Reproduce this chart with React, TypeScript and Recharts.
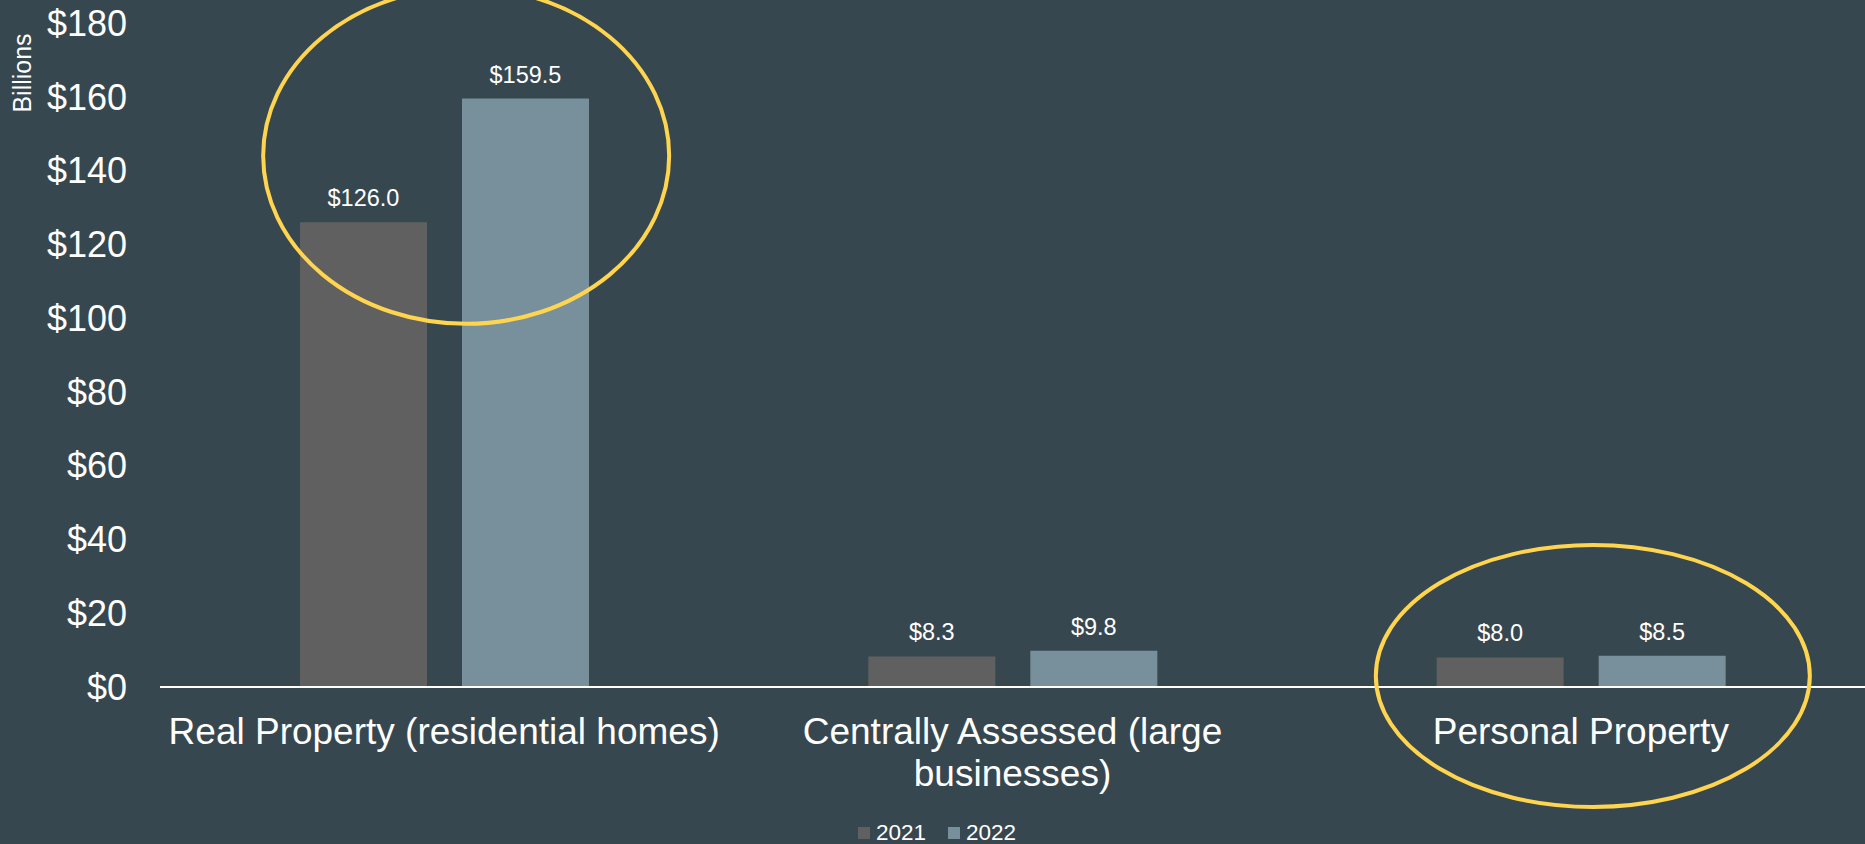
import React from "react";
import {
  BarChart,
  Bar,
  XAxis,
  YAxis,
  Legend,
  LabelList,
  ReferenceDot,
} from "recharts";

// Assessed value by property type, in billions of dollars
const categories = [
  "Real Property (residential homes)",
  "Centrally Assessed (large businesses)",
  "Personal Property",
];
const values2021 = [126.0, 8.3, 8.0];
const values2022 = [159.5, 9.8, 8.5];
const yTicks = [0, 20, 40, 60, 80, 100, 120, 140, 160, 180];

const series = [
  { key: "y2021", name: "2021", color: "#606060" },
  { key: "y2022", name: "2022", color: "#78909C" },
];

const data = categories.map((name, i) => ({
  name,
  y2021: values2021[i],
  y2022: values2022[i],
}));

const BG = "#37474F";
const HIGHLIGHT = "#FFD54F";
const FONT = "'Liberation Sans', Arial, sans-serif";
const TICK_FONT = `37px ${FONT}`;

const money = (v: any) => `$${v}`;
const moneyLabel = (v: any) => `$${Number(v).toFixed(1)}`;

// word-wrap a category name to a max pixel width
let ctx: CanvasRenderingContext2D | null = null;
const wrap = (label: string, maxWidth: number) => {
  if (!ctx) ctx = document.createElement("canvas").getContext("2d");
  ctx!.font = TICK_FONT;
  const lines: string[] = [];
  let line = "";
  label.split(" ").forEach((word) => {
    const next = line ? `${line} ${word}` : word;
    if (line && ctx!.measureText(next).width > maxWidth) {
      lines.push(line);
      line = word;
    } else {
      line = next;
    }
  });
  if (line) lines.push(line);
  return lines;
};

const CategoryTick = ({ x, y, payload }: any) => {
  const lines = wrap(String(payload.value), 590);
  return (
    <text
      x={x}
      y={y}
      textAnchor="middle"
      fill="#ffffff"
      style={{ fontSize: 37, fontFamily: FONT }}
    >
      {lines.map((l, i) => (
        <tspan key={i} x={x} dy={i === 0 ? "0.71em" : 42}>
          {l}
        </tspan>
      ))}
    </text>
  );
};

const BillionsLabel = ({ viewBox }: any) => {
  const x = viewBox.x + 22;
  const y = viewBox.y + 50;
  return (
    <text
      x={x}
      y={y}
      transform={`rotate(-90 ${x} ${y})`}
      textAnchor="middle"
      dominantBaseline="central"
      fill="#ffffff"
      fontSize={25}
    >
      Billions
    </text>
  );
};

const LegendContent = () => (
  <div
    style={{
      display: "flex",
      justifyContent: "center",
      alignItems: "center",
      height: 22,
      paddingLeft: 9,
      fontFamily: FONT,
    }}
  >
    {series.map((s) => (
      <span
        key={s.key}
        style={{ display: "flex", alignItems: "center", margin: "0 11px" }}
      >
        <span
          style={{
            display: "inline-block",
            width: 12,
            height: 12,
            background: s.color,
            marginRight: 6,
          }}
        />
        <span style={{ fontSize: 22.5, color: "#ffffff", lineHeight: "22px" }}>
          {s.name}
        </span>
      </span>
    ))}
  </div>
);

// yellow call-out rings around the highlighted groups
const ring = (dx: number, rx: number, ry: number) => (p: any) =>
  (
    <ellipse
      cx={p.cx + dx}
      cy={p.cy}
      rx={rx}
      ry={ry}
      fill="none"
      stroke={HIGHLIGHT}
      strokeWidth={4}
    />
  );

export default function App() {
  return (
    <div
      style={{
        position: "absolute",
        top: 0,
        left: 0,
        width: 1865,
        height: 844,
        background: BG,
        fontFamily: FONT,
      }}
    >
      <BarChart
        width={1865}
        height={844}
        data={data}
        margin={{ top: 23, right: 0, bottom: 0, left: 0 }}
        barSize={127}
        barGap={35}
      >
        <XAxis
          dataKey="name"
          height={135}
          axisLine={{ stroke: "#ffffff", strokeWidth: 2 }}
          tickLine={false}
          tickSize={6}
          tickMargin={25}
          interval={0}
          tick={<CategoryTick />}
        />
        <YAxis
          width={160}
          domain={[0, 180]}
          ticks={yTicks}
          axisLine={false}
          tickLine={false}
          tickSize={6}
          tickMargin={27}
          tickFormatter={money}
          tick={{ fill: "#ffffff", fontSize: 36 }}
          label={<BillionsLabel />}
        />
        <Legend
          verticalAlign="bottom"
          align="center"
          height={22}
          content={<LegendContent />}
        />
        {series.map((s) => (
          <Bar
            key={s.key}
            dataKey={s.key}
            name={s.name}
            fill={s.color}
            isAnimationActive={false}
          >
            <LabelList
              dataKey={s.key}
              position="top"
              offset={16}
              fill="#ffffff"
              fontSize={23.5}
              formatter={moneyLabel}
            />
          </Bar>
        ))}
        <ReferenceDot
          x={categories[0]}
          y={144}
          ifOverflow="visible"
          shape={ring(22, 203, 168)}
        />
        <ReferenceDot
          x={categories[2]}
          y={3}
          ifOverflow="visible"
          shape={ring(12, 217, 131)}
        />
      </BarChart>
    </div>
  );
}
